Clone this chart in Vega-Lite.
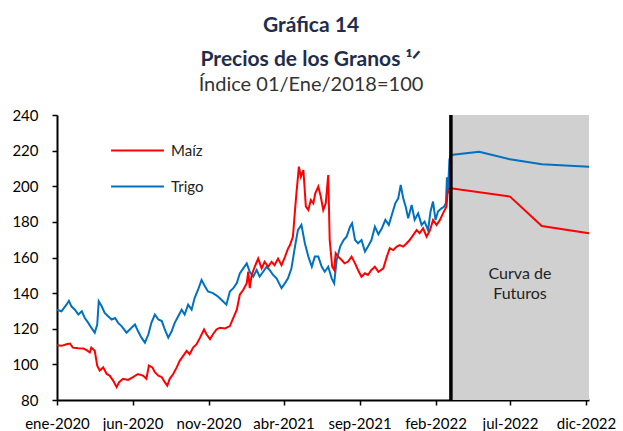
{
  "$schema": "https://vega.github.io/schema/vega-lite/v6.json",
  "width": 532,
  "height": 285,
  "autosize": {"type": "none"},
  "padding": {"left": 57, "top": 115, "right": 34, "bottom": 31},
  "background": "white",
  "config": {"view": {"stroke": null}, "font": "Lato"},
  "title": {
    "text": ["Gráfica 14", "Precios de los Granos ¹ᐟ"],
    "subtitle": "Índice 01/Ene/2018=100",
    "anchor": "middle",
    "frame": "group",
    "dx": -12,
    "font": "Lato",
    "fontSize": 21,
    "fontWeight": "bold",
    "color": "#1F2D4D",
    "lineHeight": 34,
    "subtitleFont": "Lato",
    "subtitleFontSize": 20,
    "subtitleColor": "#333333",
    "subtitlePadding": 5,
    "offset": 13
  },
  "layer": [
    {
      "data": {"values": [{"inicio": "2022/03/04", "fin": "2022/12/07", "ymin": 80, "ymax": 240}]},
      "mark": {"type": "rect", "fill": "#D0D0D0"},
      "encoding": {
        "x": {"field": "inicio", "type": "temporal"},
        "x2": {"field": "fin"},
        "y": {
          "field": "ymin",
          "type": "quantitative",
          "scale": {"domain": [80, 240], "nice": false, "zero": false},
          "axis": {
            "title": null,
            "grid": false,
            "values": [80, 100, 120, 140, 160, 180, 200, 220, 240],
            "tickCount": 9,
            "labelOverlap": false,
            "labelFont": "Lato",
            "labelFontSize": 15,
            "labelColor": "#000000",
            "labelPadding": 14,
            "domainColor": "#000000",
            "domainWidth": 2,
            "tickColor": "#000000",
            "tickWidth": 1.5,
            "tickSize": 5
          }
        },
        "y2": {"field": "ymax"}
      }
    },
    {
      "data": {"values": [
        {"fecha":"2020/01/01","grano":"Trigo","indice":130.7},
        {"fecha":"2020/01/10","grano":"Trigo","indice":129.8},
        {"fecha":"2020/01/20","grano":"Trigo","indice":133.5},
        {"fecha":"2020/01/25","grano":"Trigo","indice":135.7},
        {"fecha":"2020/01/30","grano":"Trigo","indice":132.6},
        {"fecha":"2020/02/06","grano":"Trigo","indice":130.7},
        {"fecha":"2020/02/13","grano":"Trigo","indice":128.0},
        {"fecha":"2020/02/20","grano":"Trigo","indice":129.8},
        {"fecha":"2020/02/26","grano":"Trigo","indice":126.0},
        {"fecha":"2020/03/04","grano":"Trigo","indice":123.3},
        {"fecha":"2020/03/10","grano":"Trigo","indice":120.6},
        {"fecha":"2020/03/17","grano":"Trigo","indice":117.8},
        {"fecha":"2020/03/22","grano":"Trigo","indice":122.4},
        {"fecha":"2020/03/25","grano":"Trigo","indice":135.4},
        {"fecha":"2020/03/31","grano":"Trigo","indice":132.6},
        {"fecha":"2020/04/06","grano":"Trigo","indice":128.9},
        {"fecha":"2020/04/13","grano":"Trigo","indice":127.0},
        {"fecha":"2020/04/20","grano":"Trigo","indice":125.2},
        {"fecha":"2020/04/27","grano":"Trigo","indice":126.0},
        {"fecha":"2020/05/03","grano":"Trigo","indice":123.3},
        {"fecha":"2020/05/10","grano":"Trigo","indice":121.5},
        {"fecha":"2020/05/20","grano":"Trigo","indice":117.8},
        {"fecha":"2020/05/30","grano":"Trigo","indice":120.6},
        {"fecha":"2020/06/06","grano":"Trigo","indice":122.4},
        {"fecha":"2020/06/12","grano":"Trigo","indice":118.7},
        {"fecha":"2020/06/19","grano":"Trigo","indice":115.0},
        {"fecha":"2020/06/26","grano":"Trigo","indice":112.2},
        {"fecha":"2020/07/03","grano":"Trigo","indice":116.9},
        {"fecha":"2020/07/09","grano":"Trigo","indice":123.3},
        {"fecha":"2020/07/16","grano":"Trigo","indice":128.0},
        {"fecha":"2020/07/23","grano":"Trigo","indice":125.2},
        {"fecha":"2020/07/30","grano":"Trigo","indice":124.3},
        {"fecha":"2020/08/05","grano":"Trigo","indice":119.6},
        {"fecha":"2020/08/12","grano":"Trigo","indice":115.0},
        {"fecha":"2020/08/19","grano":"Trigo","indice":118.7},
        {"fecha":"2020/08/25","grano":"Trigo","indice":123.3},
        {"fecha":"2020/09/01","grano":"Trigo","indice":127.0},
        {"fecha":"2020/09/08","grano":"Trigo","indice":130.7},
        {"fecha":"2020/09/14","grano":"Trigo","indice":128.0},
        {"fecha":"2020/09/21","grano":"Trigo","indice":133.5},
        {"fecha":"2020/09/28","grano":"Trigo","indice":130.7},
        {"fecha":"2020/10/04","grano":"Trigo","indice":137.2},
        {"fecha":"2020/10/11","grano":"Trigo","indice":141.9},
        {"fecha":"2020/10/18","grano":"Trigo","indice":147.4},
        {"fecha":"2020/10/25","grano":"Trigo","indice":143.7},
        {"fecha":"2020/10/31","grano":"Trigo","indice":140.9},
        {"fecha":"2020/11/10","grano":"Trigo","indice":140.0},
        {"fecha":"2020/11/20","grano":"Trigo","indice":138.1},
        {"fecha":"2020/11/30","grano":"Trigo","indice":135.4},
        {"fecha":"2020/12/07","grano":"Trigo","indice":133.5},
        {"fecha":"2020/12/14","grano":"Trigo","indice":140.9},
        {"fecha":"2020/12/21","grano":"Trigo","indice":142.8},
        {"fecha":"2020/12/28","grano":"Trigo","indice":145.6},
        {"fecha":"2021/01/03","grano":"Trigo","indice":151.1},
        {"fecha":"2021/01/10","grano":"Trigo","indice":153.9},
        {"fecha":"2021/01/17","grano":"Trigo","indice":156.7},
        {"fecha":"2021/01/23","grano":"Trigo","indice":152.0},
        {"fecha":"2021/01/30","grano":"Trigo","indice":149.3},
        {"fecha":"2021/02/06","grano":"Trigo","indice":153.0},
        {"fecha":"2021/02/12","grano":"Trigo","indice":149.3},
        {"fecha":"2021/02/19","grano":"Trigo","indice":152.0},
        {"fecha":"2021/02/26","grano":"Trigo","indice":154.8},
        {"fecha":"2021/03/04","grano":"Trigo","indice":153.0},
        {"fecha":"2021/03/11","grano":"Trigo","indice":150.2},
        {"fecha":"2021/03/18","grano":"Trigo","indice":148.3},
        {"fecha":"2021/03/28","grano":"Trigo","indice":142.8},
        {"fecha":"2021/04/04","grano":"Trigo","indice":145.6},
        {"fecha":"2021/04/10","grano":"Trigo","indice":148.3},
        {"fecha":"2021/04/17","grano":"Trigo","indice":153.9},
        {"fecha":"2021/04/24","grano":"Trigo","indice":166.0},
        {"fecha":"2021/04/30","grano":"Trigo","indice":175.4},
        {"fecha":"2021/05/07","grano":"Trigo","indice":178.3},
        {"fecha":"2021/05/14","grano":"Trigo","indice":168.0},
        {"fecha":"2021/05/21","grano":"Trigo","indice":160.5},
        {"fecha":"2021/05/28","grano":"Trigo","indice":154.8},
        {"fecha":"2021/06/03","grano":"Trigo","indice":160.5},
        {"fecha":"2021/06/10","grano":"Trigo","indice":160.5},
        {"fecha":"2021/06/17","grano":"Trigo","indice":154.8},
        {"fecha":"2021/06/23","grano":"Trigo","indice":152.0},
        {"fecha":"2021/06/30","grano":"Trigo","indice":154.8},
        {"fecha":"2021/07/07","grano":"Trigo","indice":148.3},
        {"fecha":"2021/07/12","grano":"Trigo","indice":145.5},
        {"fecha":"2021/07/17","grano":"Trigo","indice":158.6},
        {"fecha":"2021/07/24","grano":"Trigo","indice":166.1},
        {"fecha":"2021/07/31","grano":"Trigo","indice":169.8},
        {"fecha":"2021/08/06","grano":"Trigo","indice":171.7},
        {"fecha":"2021/08/13","grano":"Trigo","indice":177.3},
        {"fecha":"2021/08/17","grano":"Trigo","indice":179.2},
        {"fecha":"2021/08/23","grano":"Trigo","indice":169.8},
        {"fecha":"2021/08/29","grano":"Trigo","indice":168.0},
        {"fecha":"2021/09/05","grano":"Trigo","indice":169.8},
        {"fecha":"2021/09/12","grano":"Trigo","indice":163.3},
        {"fecha":"2021/09/18","grano":"Trigo","indice":166.1},
        {"fecha":"2021/09/25","grano":"Trigo","indice":169.8},
        {"fecha":"2021/10/02","grano":"Trigo","indice":177.3},
        {"fecha":"2021/10/09","grano":"Trigo","indice":173.0},
        {"fecha":"2021/10/16","grano":"Trigo","indice":176.4},
        {"fecha":"2021/10/23","grano":"Trigo","indice":181.1},
        {"fecha":"2021/10/30","grano":"Trigo","indice":178.3},
        {"fecha":"2021/11/05","grano":"Trigo","indice":183.9},
        {"fecha":"2021/11/12","grano":"Trigo","indice":190.4},
        {"fecha":"2021/11/18","grano":"Trigo","indice":193.2},
        {"fecha":"2021/11/23","grano":"Trigo","indice":200.7},
        {"fecha":"2021/11/28","grano":"Trigo","indice":193.2},
        {"fecha":"2021/12/03","grano":"Trigo","indice":188.5},
        {"fecha":"2021/12/08","grano":"Trigo","indice":182.0},
        {"fecha":"2021/12/15","grano":"Trigo","indice":189.5},
        {"fecha":"2021/12/21","grano":"Trigo","indice":181.1},
        {"fecha":"2021/12/28","grano":"Trigo","indice":184.8},
        {"fecha":"2022/01/04","grano":"Trigo","indice":178.3},
        {"fecha":"2022/01/10","grano":"Trigo","indice":180.2},
        {"fecha":"2022/01/17","grano":"Trigo","indice":175.4},
        {"fecha":"2022/01/22","grano":"Trigo","indice":185.8},
        {"fecha":"2022/01/27","grano":"Trigo","indice":191.4},
        {"fecha":"2022/02/01","grano":"Trigo","indice":181.1},
        {"fecha":"2022/02/06","grano":"Trigo","indice":185.8},
        {"fecha":"2022/02/13","grano":"Trigo","indice":187.6},
        {"fecha":"2022/02/18","grano":"Trigo","indice":188.5},
        {"fecha":"2022/02/22","grano":"Trigo","indice":190.4},
        {"fecha":"2022/02/24","grano":"Trigo","indice":205.0},
        {"fecha":"2022/02/26","grano":"Trigo","indice":196.0},
        {"fecha":"2022/03/01","grano":"Trigo","indice":215.0},
        {"fecha":"2022/03/04","grano":"Trigo","indice":217.6},
        {"fecha":"2022/04/30","grano":"Trigo","indice":219.4},
        {"fecha":"2022/07/01","grano":"Trigo","indice":215.1},
        {"fecha":"2022/09/03","grano":"Trigo","indice":212.3},
        {"fecha":"2022/12/07","grano":"Trigo","indice":211.0},
        {"fecha":"2020/01/01","grano":"Maíz","indice":110.7},
        {"fecha":"2020/01/10","grano":"Maíz","indice":110.4},
        {"fecha":"2020/01/20","grano":"Maíz","indice":111.3},
        {"fecha":"2020/01/27","grano":"Maíz","indice":111.7},
        {"fecha":"2020/02/02","grano":"Maíz","indice":109.4},
        {"fecha":"2020/02/13","grano":"Maíz","indice":109.1},
        {"fecha":"2020/02/23","grano":"Maíz","indice":108.9},
        {"fecha":"2020/02/29","grano":"Maíz","indice":108.1},
        {"fecha":"2020/03/07","grano":"Maíz","indice":106.7},
        {"fecha":"2020/03/10","grano":"Maíz","indice":109.4},
        {"fecha":"2020/03/17","grano":"Maíz","indice":107.6},
        {"fecha":"2020/03/22","grano":"Maíz","indice":99.3},
        {"fecha":"2020/03/27","grano":"Maíz","indice":96.5},
        {"fecha":"2020/04/03","grano":"Maíz","indice":98.3},
        {"fecha":"2020/04/10","grano":"Maíz","indice":94.6},
        {"fecha":"2020/04/16","grano":"Maíz","indice":93.7},
        {"fecha":"2020/04/23","grano":"Maíz","indice":90.9},
        {"fecha":"2020/04/30","grano":"Maíz","indice":87.2},
        {"fecha":"2020/05/05","grano":"Maíz","indice":90.0},
        {"fecha":"2020/05/13","grano":"Maíz","indice":91.9},
        {"fecha":"2020/05/23","grano":"Maíz","indice":91.3},
        {"fecha":"2020/06/02","grano":"Maíz","indice":92.8},
        {"fecha":"2020/06/12","grano":"Maíz","indice":94.6},
        {"fecha":"2020/06/22","grano":"Maíz","indice":93.7},
        {"fecha":"2020/06/29","grano":"Maíz","indice":91.9},
        {"fecha":"2020/07/04","grano":"Maíz","indice":99.3},
        {"fecha":"2020/07/11","grano":"Maíz","indice":98.3},
        {"fecha":"2020/07/16","grano":"Maíz","indice":95.6},
        {"fecha":"2020/07/23","grano":"Maíz","indice":93.7},
        {"fecha":"2020/07/30","grano":"Maíz","indice":92.8},
        {"fecha":"2020/08/05","grano":"Maíz","indice":90.0},
        {"fecha":"2020/08/10","grano":"Maíz","indice":88.1},
        {"fecha":"2020/08/15","grano":"Maíz","indice":91.9},
        {"fecha":"2020/08/22","grano":"Maíz","indice":94.6},
        {"fecha":"2020/08/29","grano":"Maíz","indice":98.3},
        {"fecha":"2020/09/04","grano":"Maíz","indice":102.0},
        {"fecha":"2020/09/11","grano":"Maíz","indice":104.8},
        {"fecha":"2020/09/18","grano":"Maíz","indice":107.6},
        {"fecha":"2020/09/24","grano":"Maíz","indice":105.7},
        {"fecha":"2020/10/01","grano":"Maíz","indice":109.4},
        {"fecha":"2020/10/08","grano":"Maíz","indice":111.3},
        {"fecha":"2020/10/15","grano":"Maíz","indice":115.0},
        {"fecha":"2020/10/23","grano":"Maíz","indice":119.6},
        {"fecha":"2020/10/28","grano":"Maíz","indice":116.9},
        {"fecha":"2020/11/04","grano":"Maíz","indice":114.1},
        {"fecha":"2020/11/10","grano":"Maíz","indice":116.9},
        {"fecha":"2020/11/17","grano":"Maíz","indice":119.6},
        {"fecha":"2020/11/24","grano":"Maíz","indice":120.6},
        {"fecha":"2020/12/04","grano":"Maíz","indice":120.2},
        {"fecha":"2020/12/14","grano":"Maíz","indice":121.5},
        {"fecha":"2020/12/21","grano":"Maíz","indice":126.1},
        {"fecha":"2020/12/28","grano":"Maíz","indice":130.7},
        {"fecha":"2021/01/03","grano":"Maíz","indice":139.1},
        {"fecha":"2021/01/10","grano":"Maíz","indice":141.9},
        {"fecha":"2021/01/17","grano":"Maíz","indice":145.6},
        {"fecha":"2021/01/20","grano":"Maíz","indice":152.0},
        {"fecha":"2021/01/23","grano":"Maíz","indice":142.8},
        {"fecha":"2021/01/27","grano":"Maíz","indice":150.2},
        {"fecha":"2021/02/02","grano":"Maíz","indice":154.8},
        {"fecha":"2021/02/09","grano":"Maíz","indice":159.4},
        {"fecha":"2021/02/16","grano":"Maíz","indice":153.9},
        {"fecha":"2021/02/22","grano":"Maíz","indice":157.6},
        {"fecha":"2021/03/01","grano":"Maíz","indice":154.8},
        {"fecha":"2021/03/08","grano":"Maíz","indice":157.6},
        {"fecha":"2021/03/14","grano":"Maíz","indice":155.7},
        {"fecha":"2021/03/21","grano":"Maíz","indice":159.4},
        {"fecha":"2021/03/28","grano":"Maíz","indice":155.7},
        {"fecha":"2021/04/04","grano":"Maíz","indice":160.4},
        {"fecha":"2021/04/10","grano":"Maíz","indice":165.0},
        {"fecha":"2021/04/14","grano":"Maíz","indice":167.0},
        {"fecha":"2021/04/20","grano":"Maíz","indice":171.7},
        {"fecha":"2021/04/24","grano":"Maíz","indice":186.0},
        {"fecha":"2021/04/27","grano":"Maíz","indice":196.0},
        {"fecha":"2021/05/02","grano":"Maíz","indice":211.0},
        {"fecha":"2021/05/06","grano":"Maíz","indice":205.4},
        {"fecha":"2021/05/11","grano":"Maíz","indice":209.1},
        {"fecha":"2021/05/16","grano":"Maíz","indice":188.5},
        {"fecha":"2021/05/21","grano":"Maíz","indice":186.7},
        {"fecha":"2021/05/26","grano":"Maíz","indice":192.3},
        {"fecha":"2021/05/31","grano":"Maíz","indice":190.4},
        {"fecha":"2021/06/04","grano":"Maíz","indice":196.0},
        {"fecha":"2021/06/10","grano":"Maíz","indice":199.8},
        {"fecha":"2021/06/15","grano":"Maíz","indice":194.2},
        {"fecha":"2021/06/20","grano":"Maíz","indice":186.7},
        {"fecha":"2021/06/25","grano":"Maíz","indice":190.4},
        {"fecha":"2021/06/30","grano":"Maíz","indice":206.3},
        {"fecha":"2021/07/03","grano":"Maíz","indice":169.8},
        {"fecha":"2021/07/08","grano":"Maíz","indice":154.8},
        {"fecha":"2021/07/12","grano":"Maíz","indice":153.0},
        {"fecha":"2021/07/15","grano":"Maíz","indice":162.4},
        {"fecha":"2021/07/20","grano":"Maíz","indice":160.5},
        {"fecha":"2021/07/27","grano":"Maíz","indice":158.6},
        {"fecha":"2021/08/02","grano":"Maíz","indice":156.7},
        {"fecha":"2021/08/09","grano":"Maíz","indice":157.7},
        {"fecha":"2021/08/16","grano":"Maíz","indice":160.5},
        {"fecha":"2021/08/23","grano":"Maíz","indice":156.7},
        {"fecha":"2021/08/29","grano":"Maíz","indice":153.0},
        {"fecha":"2021/09/05","grano":"Maíz","indice":149.2},
        {"fecha":"2021/09/12","grano":"Maíz","indice":151.1},
        {"fecha":"2021/09/18","grano":"Maíz","indice":150.2},
        {"fecha":"2021/09/25","grano":"Maíz","indice":153.0},
        {"fecha":"2021/10/02","grano":"Maíz","indice":154.8},
        {"fecha":"2021/10/09","grano":"Maíz","indice":152.0},
        {"fecha":"2021/10/19","grano":"Maíz","indice":153.9},
        {"fecha":"2021/10/26","grano":"Maíz","indice":160.5},
        {"fecha":"2021/11/01","grano":"Maíz","indice":165.2},
        {"fecha":"2021/11/08","grano":"Maíz","indice":164.2},
        {"fecha":"2021/11/15","grano":"Maíz","indice":166.1},
        {"fecha":"2021/11/21","grano":"Maíz","indice":167.0},
        {"fecha":"2021/11/28","grano":"Maíz","indice":166.1},
        {"fecha":"2021/12/05","grano":"Maíz","indice":168.0},
        {"fecha":"2021/12/11","grano":"Maíz","indice":169.8},
        {"fecha":"2021/12/18","grano":"Maíz","indice":172.6},
        {"fecha":"2021/12/25","grano":"Maíz","indice":175.4},
        {"fecha":"2021/12/31","grano":"Maíz","indice":173.6},
        {"fecha":"2022/01/07","grano":"Maíz","indice":176.4},
        {"fecha":"2022/01/14","grano":"Maíz","indice":171.7},
        {"fecha":"2022/01/21","grano":"Maíz","indice":175.4},
        {"fecha":"2022/01/27","grano":"Maíz","indice":181.1},
        {"fecha":"2022/02/03","grano":"Maíz","indice":178.3},
        {"fecha":"2022/02/10","grano":"Maíz","indice":181.1},
        {"fecha":"2022/02/16","grano":"Maíz","indice":184.8},
        {"fecha":"2022/02/23","grano":"Maíz","indice":188.5},
        {"fecha":"2022/02/26","grano":"Maíz","indice":197.9},
        {"fecha":"2022/03/04","grano":"Maíz","indice":198.9},
        {"fecha":"2022/07/01","grano":"Maíz","indice":194.2},
        {"fecha":"2022/09/03","grano":"Maíz","indice":177.7},
        {"fecha":"2022/12/07","grano":"Maíz","indice":173.6}
      ]},
      "mark": {"type": "line", "strokeWidth": 2},
      "encoding": {
        "x": {
          "field": "fecha",
          "type": "temporal",
          "scale": {"domain": [{"year": 2020, "month": 1, "date": 1}, {"year": 2022, "month": 12, "date": 7}]},
          "axis": {
            "title": null,
            "grid": false,
            "values": [
              {"year": 2020, "month": 1, "date": 1},
              {"year": 2020, "month": 6, "date": 1},
              {"year": 2020, "month": 11, "date": 1},
              {"year": 2021, "month": 4, "date": 1},
              {"year": 2021, "month": 9, "date": 1},
              {"year": 2022, "month": 2, "date": 1},
              {"year": 2022, "month": 7, "date": 1},
              {"year": 2022, "month": 12, "date": 1}
            ],
            "labelExpr": "['ene','feb','mar','abr','may','jun','jul','ago','sep','oct','nov','dic'][month(datum.value)] + '-' + year(datum.value)",
            "labelFlush": false,
            "labelOverlap": false,
            "labelFont": "Lato",
            "labelFontSize": 15,
            "labelColor": "#000000",
            "labelPadding": 11,
            "domainColor": "#000000",
            "domainWidth": 2,
            "tickColor": "#000000",
            "tickWidth": 1.5,
            "tickSize": 5
          }
        },
        "y": {
          "field": "indice",
          "type": "quantitative",
          "scale": {"domain": [80, 240], "nice": false, "zero": false},
          "axis": {
            "title": null,
            "grid": false,
            "values": [80, 100, 120, 140, 160, 180, 200, 220, 240],
            "tickCount": 9,
            "labelOverlap": false,
            "labelFont": "Lato",
            "labelFontSize": 15,
            "labelColor": "#000000",
            "labelPadding": 14,
            "domainColor": "#000000",
            "domainWidth": 2,
            "tickColor": "#000000",
            "tickWidth": 1.5,
            "tickSize": 5
          }
        },
        "color": {
          "field": "grano",
          "type": "nominal",
          "scale": {"domain": ["Maíz", "Trigo"], "range": ["#FF0000", "#0070C0"]},
          "legend": {
            "title": null,
            "orient": "none",
            "legendX": 53,
            "legendY": 8,
            "symbolType": "stroke",
            "symbolSize": 2800,
            "symbolStrokeWidth": 2,
            "labelFont": "Lato",
            "labelFontSize": 15,
            "labelColor": "#222222",
            "labelOffset": 6,
            "rowPadding": -1,
            "padding": 0
          }
        }
      }
    },
    {
      "data": {"values": [{"fecha": "2022/03/04"}]},
      "mark": {"type": "rule", "color": "#000000", "strokeWidth": 3.5},
      "encoding": {"x": {"field": "fecha", "type": "temporal"}}
    },
    {
      "data": {"values": [{"fecha": "2022/07/21", "valor": 150.7, "etiqueta": "Curva de\nFuturos"}]},
      "mark": {"type": "text", "lineBreak": "\n", "font": "Lato", "fontSize": 16, "color": "#222222", "lineHeight": 20, "baseline": "middle", "align": "center"},
      "encoding": {
        "x": {"field": "fecha", "type": "temporal"},
        "y": {"field": "valor", "type": "quantitative"},
        "text": {"field": "etiqueta"}
      }
    }
  ]
}
